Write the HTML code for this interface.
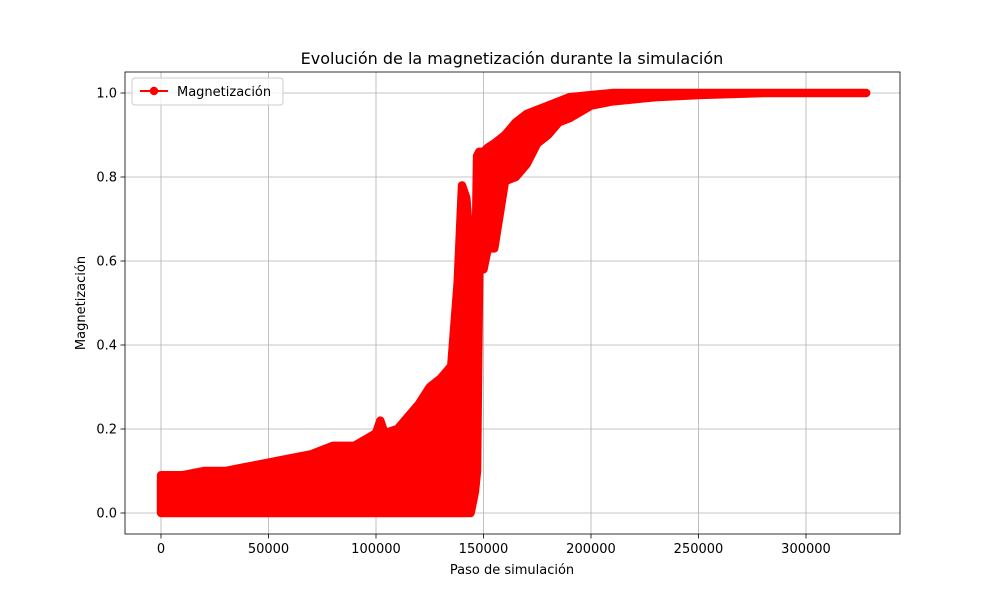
<!DOCTYPE html>
<html><head><meta charset="utf-8"><style>
body{margin:0;background:#fff;}
svg text{font-family:"DejaVu Sans","Liberation Sans",sans-serif;fill:#000;}
</style></head><body>
<svg id="chart" width="1000" height="600" viewBox="0 0 1000 600">
<rect width="1000" height="600" fill="#fff"/>
<g id="grid"></g>
<g id="series"></g>
<rect x="125" y="72" width="775" height="462" fill="none" stroke="#000" stroke-width="0.8"/>
<g id="ticks"></g>
<text x="512" y="64" font-size="16" text-anchor="middle">Evolución de la magnetización durante la simulación</text>
<text x="512" y="574" font-size="13" text-anchor="middle">Paso de simulación</text>
<text x="0" y="0" font-size="13" text-anchor="middle" transform="translate(85,303) rotate(-90)">Magnetización</text>
<g>
<rect x="132" y="78" width="151" height="27" rx="3" fill="#fff" fill-opacity="0.8" stroke="#ccc"/>
<line x1="140" y1="91" x2="168" y2="91" stroke="#f00" stroke-width="2"/>
<circle cx="154" cy="91" r="4.2" fill="#f00"/>
<text x="177" y="96" font-size="13">Magnetización</text>
</g>
</svg>
<script>
const steps=[0,5000,10000,20000,30000,40000,50000,60000,70000,80000,90000,100000,102000,104000,110000,120000,125000,130000,135000,138000,140000,142000,144000,146000,147000,148000,150000,152000,155000,160000,165000,170000,175000,180000,185000,190000,200000,210000,220000,230000,250000,280000,328000];
const upper=[0.09,0.09,0.09,0.10,0.10,0.11,0.12,0.13,0.14,0.16,0.16,0.19,0.22,0.19,0.20,0.26,0.30,0.32,0.35,0.55,0.78,0.75,0.62,0.50,0.85,0.86,0.86,0.87,0.88,0.90,0.93,0.95,0.96,0.97,0.98,0.99,0.995,1.0,1.0,1.0,1.0,1.0,1.0];
const lower=[0,0,0,0,0,0,0,0,0,0,0,0,0,0,0,0,0,0,0,0,0,0,0,0.05,0.10,0.58,0.58,0.63,0.63,0.79,0.80,0.83,0.88,0.90,0.93,0.94,0.97,0.98,0.985,0.99,0.995,1.0,1.0];
const xTicks=[0,50000,100000,150000,200000,250000,300000];
const yTicks=[0,0.2,0.4,0.6,0.8,1.0];
const X=v=>161+v/50000*107.5;
const Y=v=>513-v*420;
const NS="http://www.w3.org/2000/svg";
const grid=document.getElementById('grid'),ticks=document.getElementById('ticks'),ser=document.getElementById('series');
function mk(t,a,p){const e=document.createElementNS(NS,t);for(const k in a)e.setAttribute(k,a[k]);p.appendChild(e);return e;}
xTicks.forEach(v=>{const x=X(v);
const g=mk('line',{x1:x,x2:x,y1:72,y2:534,stroke:'#b0b0b0','stroke-width':0.8},grid);


const t=mk('line',{x1:x,x2:x,y1:534,y2:538.5,stroke:'#000','stroke-width':0.8},ticks);


const l=mk('text',{x:x,y:553,'font-size':13,'text-anchor':'middle'},ticks);l.textContent=String(v);

});
yTicks.forEach(v=>{const y=Y(v);
const g=mk('line',{x1:125,x2:900,y1:y,y2:y,stroke:'#b0b0b0','stroke-width':0.8},grid);


const t=mk('line',{x1:120.5,x2:125,y1:y,y2:y,stroke:'#000','stroke-width':0.8},ticks);


const l=mk('text',{x:117,y:y+4.5,'font-size':13,'text-anchor':'end'},ticks);l.textContent=v.toFixed(1);

});
let pts=[];
steps.forEach((s,i)=>pts.push(X(s)+','+Y(upper[i])));
for(let i=steps.length-1;i>=0;i--)pts.push(X(steps[i])+','+Y(lower[i]));
const poly=mk('polygon',{points:pts.join(' '),fill:'#f00',stroke:'#f00','stroke-width':8.4,'stroke-linejoin':'round'},ser);


</script>
</body></html>
